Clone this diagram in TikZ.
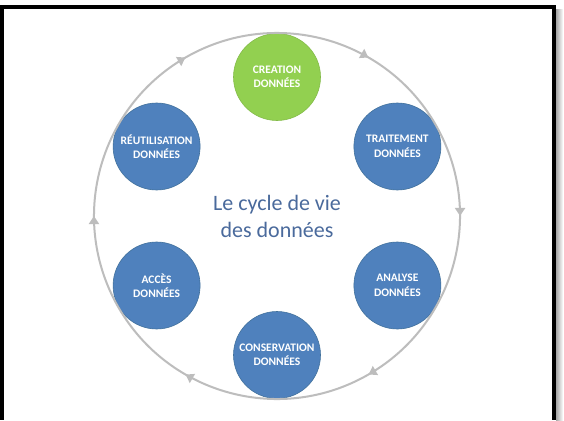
\documentclass[tikz,border=0pt]{standalone}
\usepackage{fontspec}
\setmainfont{Carlito}
\usetikzlibrary{decorations.markings,arrows.meta}
\definecolor{nodeblue}{HTML}{4F81BD}
\definecolor{nodeblueedge}{HTML}{41719C}
\definecolor{nodegreen}{HTML}{92D050}
\definecolor{titleblue}{HTML}{4A6A9C}
\definecolor{ringgray}{HTML}{BDBDBD}
\tikzset{
  stagenode/.style={circle, minimum size=87pt, inner sep=0pt, fill=nodeblue, draw=nodeblueedge, line width=0.6pt,
    text=white, font=\fontsize{11.5}{14.5}\selectfont\bfseries, align=center},
  greennode/.style={stagenode, fill=nodegreen, draw=nodegreen!90!black},
  ring/.style={draw=ringgray, line width=2pt},
  titletext/.style={text=titleblue, font=\fontsize{22}{27}\selectfont, align=center},
}
\begin{document}
\begin{tikzpicture}[x=1pt,y=-1pt]
\useasboundingbox (0,0) rectangle (564,420);
\fill[white] (0,0) rectangle (564,420);
% frame shadow
\shade[left color=gray!70, right color=white] (556,10) rectangle (563,420);
% frame
\draw[black, line width=4pt] (1.5,420) -- (1.5,7) -- (554,7) -- (554,420);
\coordinate (c) at (277,216);
% stage nodes
\node[greennode] (creation) at (277,77) {CREATION\\DONNÉES};
\node[stagenode] (traitement) at (397.4,146.5) {TRAITEMENT\\DONNÉES};
\node[stagenode] (analyse) at (397.4,285.5) {ANALYSE\\DONNÉES};
\node[stagenode] (conservation) at (277,355) {CONSERVATION\\DONNÉES};
\node[stagenode] (acces) at (156.6,285.5) {ACCÈS\\DONNÉES};
\node[stagenode] (reutil) at (156.6,146.5) {RÉUTILISATION\\DONNÉES};
% title
\node[titletext] (title) at (c) {Le cycle de vie\\des données};
% ring with clockwise arrows
\draw[ring, postaction={decorate}, decoration={markings,
    mark=at position 1/12 with {\arrow[ringgray]{Triangle[width=10pt,length=8pt]}},
    mark=at position 3/12 with {\arrow[ringgray]{Triangle[width=10pt,length=8pt]}},
    mark=at position 5/12 with {\arrow[ringgray]{Triangle[width=10pt,length=8pt]}},
    mark=at position 7/12 with {\arrow[ringgray]{Triangle[width=10pt,length=8pt]}},
    mark=at position 9/12 with {\arrow[ringgray]{Triangle[width=10pt,length=8pt]}},
    mark=at position 11/12 with {\arrow[ringgray]{Triangle[width=10pt,length=8pt]}}}]
  (c) ++(150:183) arc[start angle=150, end angle=510, radius=183];
\end{tikzpicture}
\end{document}
